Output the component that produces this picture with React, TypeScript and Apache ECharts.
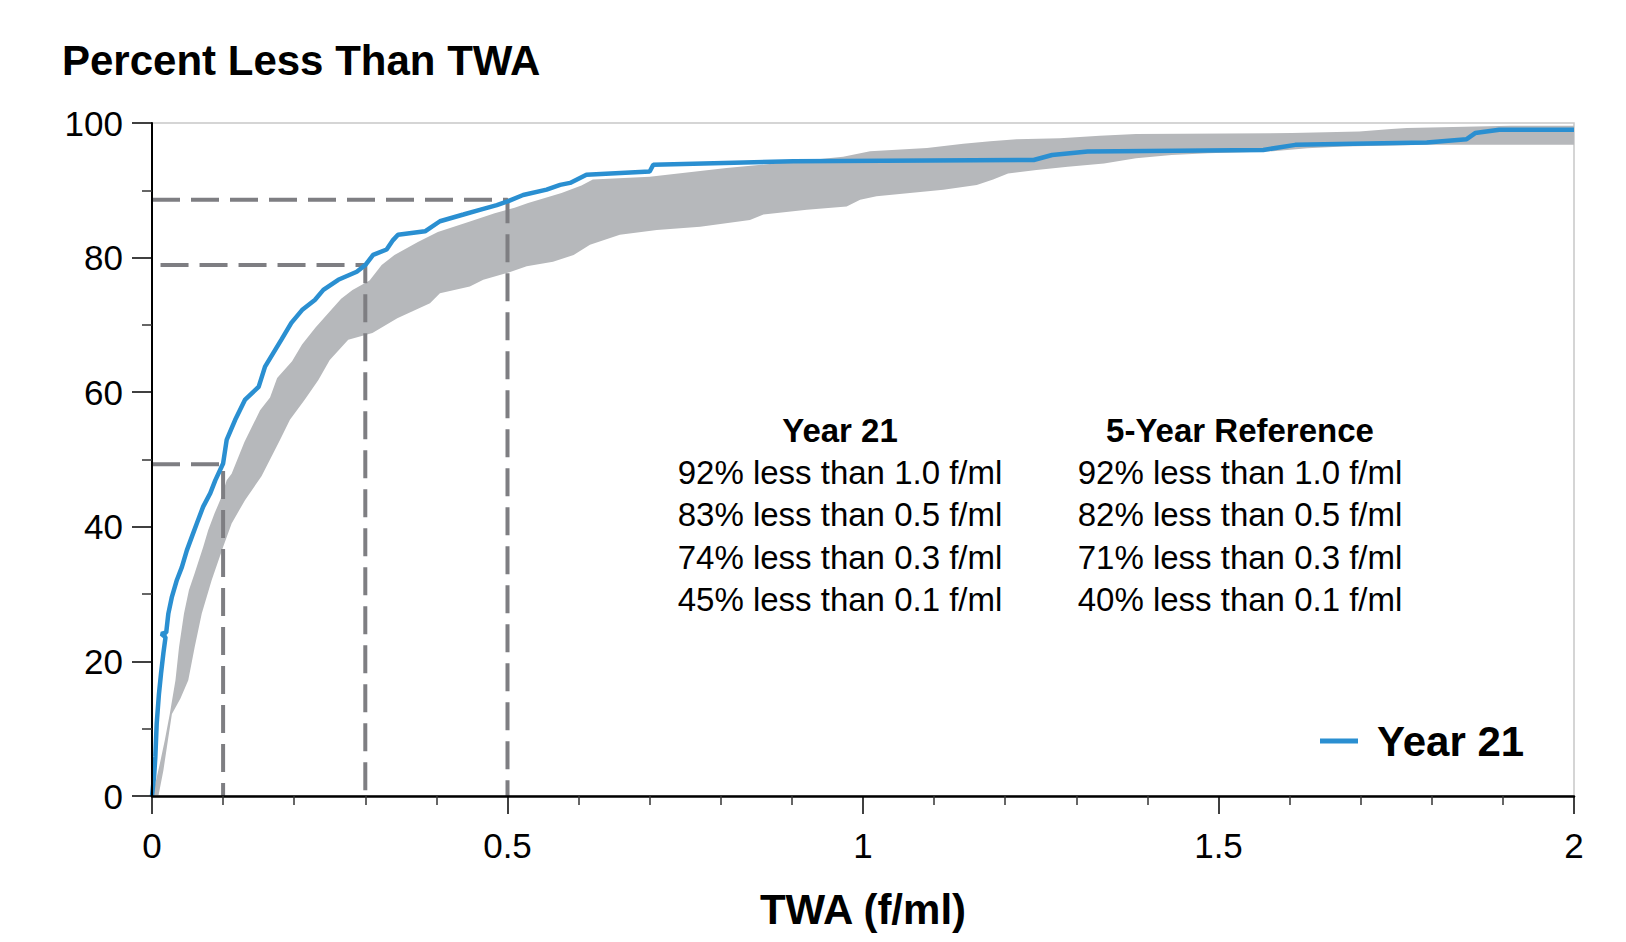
import React, { useEffect, useRef } from "react";
import * as echarts from "echarts";

const FONT = "'Liberation Sans', Arial, Helvetica, sans-serif";

// Year 21 cumulative distribution: [TWA f/ml, percent less than]
const year21Points: [number, number][] = [
  [0, 0], [0.003, 3], [0.0047, 5.8], [0.0066, 10.75], [0.0098, 15.2], [0.0127, 18.2],
  [0.016, 21.2], [0.019, 23.6], [0.013, 24.1], [0.02, 24.3], [0.023, 27.1], [0.028, 29.6],
  [0.035, 32.1], [0.042, 34.0], [0.049, 36.5], [0.056, 38.5], [0.063, 40.5], [0.072, 43.0],
  [0.082, 45.0], [0.089, 46.9], [0.1, 49.4], [0.105, 52.9], [0.117, 55.9], [0.131, 58.9],
  [0.15, 60.8], [0.159, 63.8], [0.182, 67.8], [0.196, 70.3], [0.211, 72.2], [0.229, 73.7],
  [0.241, 75.2], [0.262, 76.7], [0.288, 77.9], [0.3, 78.9], [0.311, 80.4], [0.33, 81.2],
  [0.339, 82.6], [0.346, 83.4], [0.384, 83.9], [0.405, 85.4], [0.438, 86.4], [0.461, 87.1],
  [0.485, 87.8], [0.499, 88.3], [0.522, 89.3], [0.555, 90.1], [0.574, 90.8], [0.588, 91.1],
  [0.611, 92.3], [0.7, 92.8], [0.705, 93.8], [0.902, 94.3], [1.24, 94.5], [1.266, 95.25],
  [1.316, 95.75], [1.563, 96.0], [1.608, 96.75], [1.793, 97.1], [1.849, 97.6], [1.861, 98.5],
  [1.895, 99.0], [2.0, 99.0],
];

// 5-year reference range: upper boundary
const refUpper: [number, number][] = [
  [0, 0], [0.005, 2], [0.011, 4.8], [0.018, 8.3], [0.025, 12.2], [0.033, 17.2], [0.038, 22.1],
  [0.045, 27.1], [0.052, 30.6], [0.06, 33.1], [0.072, 37.0], [0.079, 39.5], [0.088, 42.0],
  [0.098, 44.5], [0.105, 46.9], [0.112, 47.9], [0.13, 52.6], [0.152, 57.3], [0.166, 59.2],
  [0.176, 62.1], [0.197, 64.6], [0.211, 67.1], [0.23, 69.6], [0.25, 72.0], [0.266, 73.9],
  [0.282, 75.2], [0.306, 76.6], [0.323, 78.9], [0.341, 80.4], [0.374, 82.3], [0.402, 83.8],
  [0.445, 85.3], [0.482, 86.6], [0.51, 87.4], [0.529, 88.1], [0.576, 89.6], [0.604, 90.7],
  [0.62, 91.6], [0.7, 92.0], [0.808, 93.3], [0.916, 94.4], [0.972, 95.0], [1.01, 95.8],
  [1.09, 96.3], [1.141, 96.9], [1.179, 97.3], [1.216, 97.6], [1.277, 97.75], [1.333, 98.1],
  [1.384, 98.35], [1.603, 98.5], [1.698, 98.75], [1.743, 99.1], [1.765, 99.25], [1.911, 99.6],
  [2.0, 99.6],
];

// 5-year reference range: lower boundary
const refLower: [number, number][] = [
  [0.009, 0], [0.016, 3.8], [0.021, 7.3], [0.028, 12.2], [0.04, 14.5], [0.051, 17.2],
  [0.06, 22.1], [0.07, 27.1], [0.084, 32.1], [0.1, 37.0], [0.112, 40.5], [0.131, 44.0],
  [0.154, 47.5], [0.18, 52.9], [0.194, 55.9], [0.215, 58.9], [0.234, 61.8], [0.25, 64.8],
  [0.276, 67.8], [0.31, 68.8], [0.345, 71.0], [0.391, 73.2], [0.405, 74.7], [0.447, 75.7],
  [0.466, 76.7], [0.499, 77.7], [0.527, 78.7], [0.564, 79.4], [0.593, 80.4], [0.616, 81.9],
  [0.658, 83.4], [0.71, 84.1], [0.771, 84.6], [0.841, 85.6], [0.86, 86.4], [0.921, 87.1],
  [0.977, 87.6], [0.996, 88.6], [1.019, 89.1], [1.066, 89.6], [1.113, 90.1], [1.16, 90.8],
  [1.183, 91.6], [1.204, 92.5], [1.244, 93.0], [1.288, 93.5], [1.339, 94.0], [1.384, 94.75],
  [1.434, 95.25], [1.485, 95.5], [1.569, 95.75], [1.625, 96.25], [1.676, 96.5], [1.794, 96.75],
  [2.0, 96.75],
];

// Dashed guide lines: [x threshold, y level, x start]
const guideX = [0.5, 0.3, 0.1];
const guideY = [88.6, 78.9, 49.3];
const guideStart = [0, 0.012, 0];

// Summary text
const thresholds = ["1.0", "0.5", "0.3", "0.1"];
const year21Pct = [92, 83, 74, 45];
const refPct = [92, 82, 71, 40];

const xTicks = { min: 0, max: 2, interval: 0.5 };
const yTicks = { min: 0, max: 100, interval: 20 };

export default function App() {
  const ref = useRef<HTMLDivElement>(null);

  useEffect(() => {
    document.body.style.margin = "0";
    if (!ref.current) return;
    const chart = echarts.init(ref.current, undefined, { renderer: "svg" });

    const guideSeries = guideX.map((gx, i) => ({
      type: "line",
      name: "guide" + i,
      data: [
        [guideStart[i], guideY[i]],
        [gx, guideY[i]],
        [gx, 0],
      ],
      symbol: "none",
      silent: true,
      z: 3,
      lineStyle: { color: "#7e7e82", width: 4, type: [28, 11] },
    }));

    const textCol = (cx: number, header: string, pcts: number[]) => [
      {
        type: "text",
        x: cx,
        y: 430,
        style: {
          text: header,
          fontFamily: FONT,
          fontSize: 33,
          fontWeight: "bold",
          fill: "#000",
          align: "center",
          verticalAlign: "middle",
        },
      },
      ...pcts.map((p, i) => ({
        type: "text",
        x: cx,
        y: 472 + i * 42.5,
        style: {
          text: `${p}% less than ${thresholds[i]} f/ml`,
          fontFamily: FONT,
          fontSize: 33,
          fill: "#000",
          align: "center",
          verticalAlign: "middle",
        },
      })),
    ];

    const option: any = {
      animation: false,
      title: {
        text: "Percent Less Than TWA",
        left: 57,
        top: 34,
        textStyle: { fontFamily: FONT, fontSize: 42, fontWeight: "bold", color: "#000" },
      },
      legend: {
        data: ["Year 21"],
        left: 1315,
        top: 715,
        icon: "rect",
        itemWidth: 38,
        itemHeight: 5,
        textStyle: {
          fontFamily: FONT,
          fontSize: 42,
          fontWeight: "bold",
          color: "#000",
          padding: [0, 0, 0, 14],
        },
      },
      grid: {
        left: 152,
        right: 52,
        top: 123,
        bottom: 146,
        show: true,
        borderColor: "#c8c8c8",
        borderWidth: 1.5,
      },
      xAxis: {
        type: "value",
        min: xTicks.min,
        max: xTicks.max,
        interval: xTicks.interval,
        z: 10,
        name: "TWA (f/ml)",
        nameLocation: "middle",
        nameGap: 92,
        nameTextStyle: { fontFamily: FONT, fontSize: 42, fontWeight: "bold", color: "#000" },
        axisLine: { show: true, lineStyle: { color: "#000", width: 2.5 } },
        axisTick: { show: true, length: 18, lineStyle: { color: "#000", width: 1.5 } },
        minorTick: { show: true, splitNumber: 5, length: 9, lineStyle: { color: "#333", width: 1.5 } },
        splitLine: { show: false },
        axisLabel: { fontFamily: FONT, fontSize: 35, color: "#000", margin: 32 },
      },
      yAxis: {
        type: "value",
        min: yTicks.min,
        max: yTicks.max,
        interval: yTicks.interval,
        z: 10,
        axisLine: { show: true, lineStyle: { color: "#000", width: 2 } },
        axisTick: { show: true, length: 20, lineStyle: { color: "#000", width: 1.5 } },
        minorTick: { show: true, splitNumber: 2, length: 10, lineStyle: { color: "#333", width: 1.5 } },
        splitLine: { show: false },
        axisLabel: { fontFamily: FONT, fontSize: 35, color: "#000", margin: 29 },
      },
      graphic: [...textCol(840, "Year 21", year21Pct), ...textCol(1240, "5-Year Reference", refPct)],
      series: [
        {
          type: "custom",
          name: "5-Year Reference",
          data: [[0, 0]],
          silent: true,
          z: 1,
          renderItem: (params: any, api: any) => {
            if (params.dataIndex !== 0) return null;
            const pts = [
              ...refUpper.map((p) => api.coord(p)),
              ...refLower
                .slice()
                .reverse()
                .map((p) => api.coord(p)),
            ];
            return {
              type: "polygon",
              shape: { points: pts },
              style: { fill: "#b6b8bb", stroke: "none" },
            };
          },
        },
        ...guideSeries,
        {
          type: "line",
          name: "Year 21",
          data: year21Points,
          symbol: "none",
          z: 5,
          color: "#2a8fd1",
          lineStyle: { color: "#2a8fd1", width: 4.5 },
        },
      ],
    };

    chart.setOption(option);
    return () => chart.dispose();
  }, []);

  return <div ref={ref} style={{ width: 1626, height: 942 }} />;
}
